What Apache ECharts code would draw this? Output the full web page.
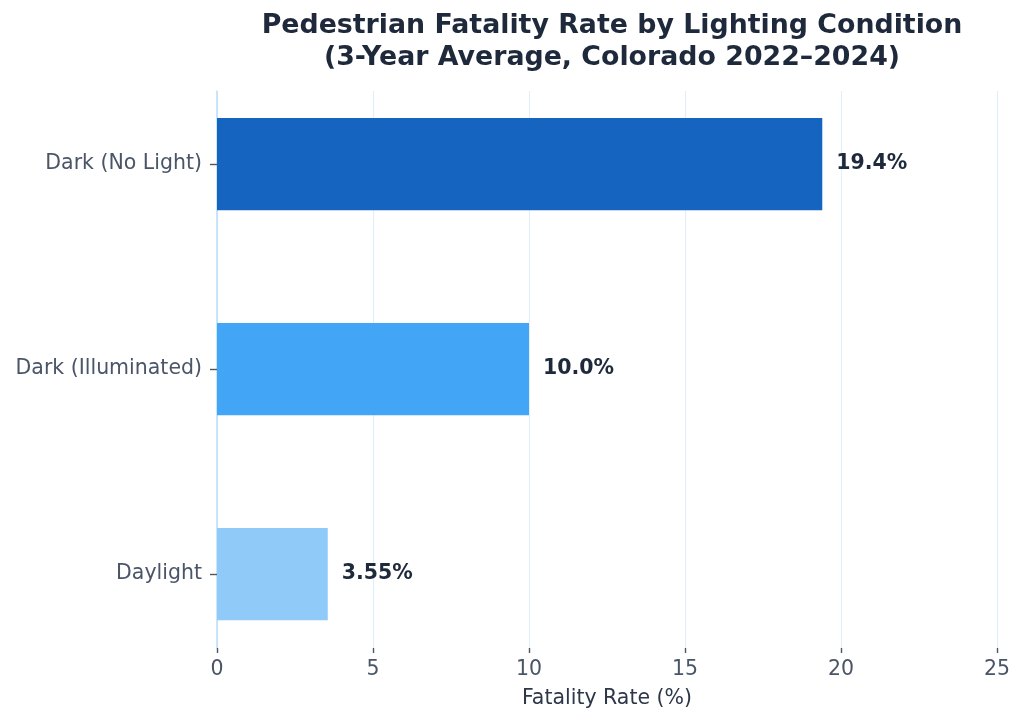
<!DOCTYPE html>
<html>
<head>
<meta charset="utf-8">
<script src="https://cdn.jsdelivr.net/npm/echarts@6/dist/echarts.min.js"></script>
<style>html,body{margin:0;padding:0;background:#fff}#c{width:1024px;height:723px}</style>
</head>
<body>
<div id="c"></div>
<script>
const categories = ['Daylight', 'Dark (Illuminated)', 'Dark (No Light)'];
const rates = [3.55, 10.0, 19.4];
const valueLabels = ['3.55%', '10.0%', '19.4%'];
const barColors = ['#90CAF9', '#42A5F5', '#1565C0'];
const xTicks = [0, 5, 10, 15, 20, 25];

const FONT = '"DejaVu Sans", sans-serif';
const chart = echarts.init(document.getElementById('c'));
chart.setOption({
  animation: false,
  title: {
    text: 'Pedestrian Fatality Rate by Lighting Condition\n(3-Year Average, Colorado 2022\u20132024)',
    left: 607, top: 5, textAlign: 'center',
    textStyle: {fontFamily: FONT, fontSize: 26.8, fontWeight: 'bold', color: '#1e293b', lineHeight: 32}
  },
  grid: [
    {left: 217, right: 27, top: 91, bottom: 75},
    {left: 217, right: 27, top: 61.5, bottom: 46.5}
  ],
  xAxis: [
    {
      type: 'value', gridIndex: 0, min: xTicks[0], max: xTicks[xTicks.length - 1], interval: 5,
      axisLine: {show: false},
      axisTick: {show: true, length: 5, lineStyle: {color: '#555', width: 1.4}},
      axisLabel: {fontFamily: FONT, fontSize: 20.5, color: '#4a5568', margin: 11},
      splitLine: {show: true, lineStyle: {color: '#e1effb', width: 1.2}},
      name: 'Fatality Rate (%)', nameLocation: 'middle', nameGap: 40,
      nameTextStyle: {fontFamily: FONT, fontSize: 20.5, color: '#2d3748'}
    },
    {type: 'value', gridIndex: 1, min: 0, max: 25, show: false}
  ],
  yAxis: [
    {
      type: 'value', gridIndex: 0, min: 0, max: 1,
      axisLine: {show: true, lineStyle: {color: '#bbdefb', width: 1.5}},
      axisTick: {show: false}, axisLabel: {show: false}, splitLine: {show: false}
    },
    {
      type: 'category', gridIndex: 1, data: categories,
      axisLine: {show: false},
      axisTick: {show: true, alignWithLabel: true, length: 7, lineStyle: {color: '#555', width: 1.4}},
      axisLabel: {fontFamily: FONT, fontSize: 20.5, color: '#4a5568', margin: 15},
      splitLine: {show: false}
    }
  ],
  series: [{
    type: 'bar', xAxisIndex: 1, yAxisIndex: 1,
    barWidth: '45%',
    data: rates.map((v, i) => ({value: v, itemStyle: {color: barColors[i]}})),
    label: {
      show: true, position: 'right', distance: 14,
      formatter: p => valueLabels[p.dataIndex],
      fontFamily: FONT, fontSize: 20.5, fontWeight: 'bold', color: '#1e293b'
    }
  }]
});
</script>
</body>
</html>
